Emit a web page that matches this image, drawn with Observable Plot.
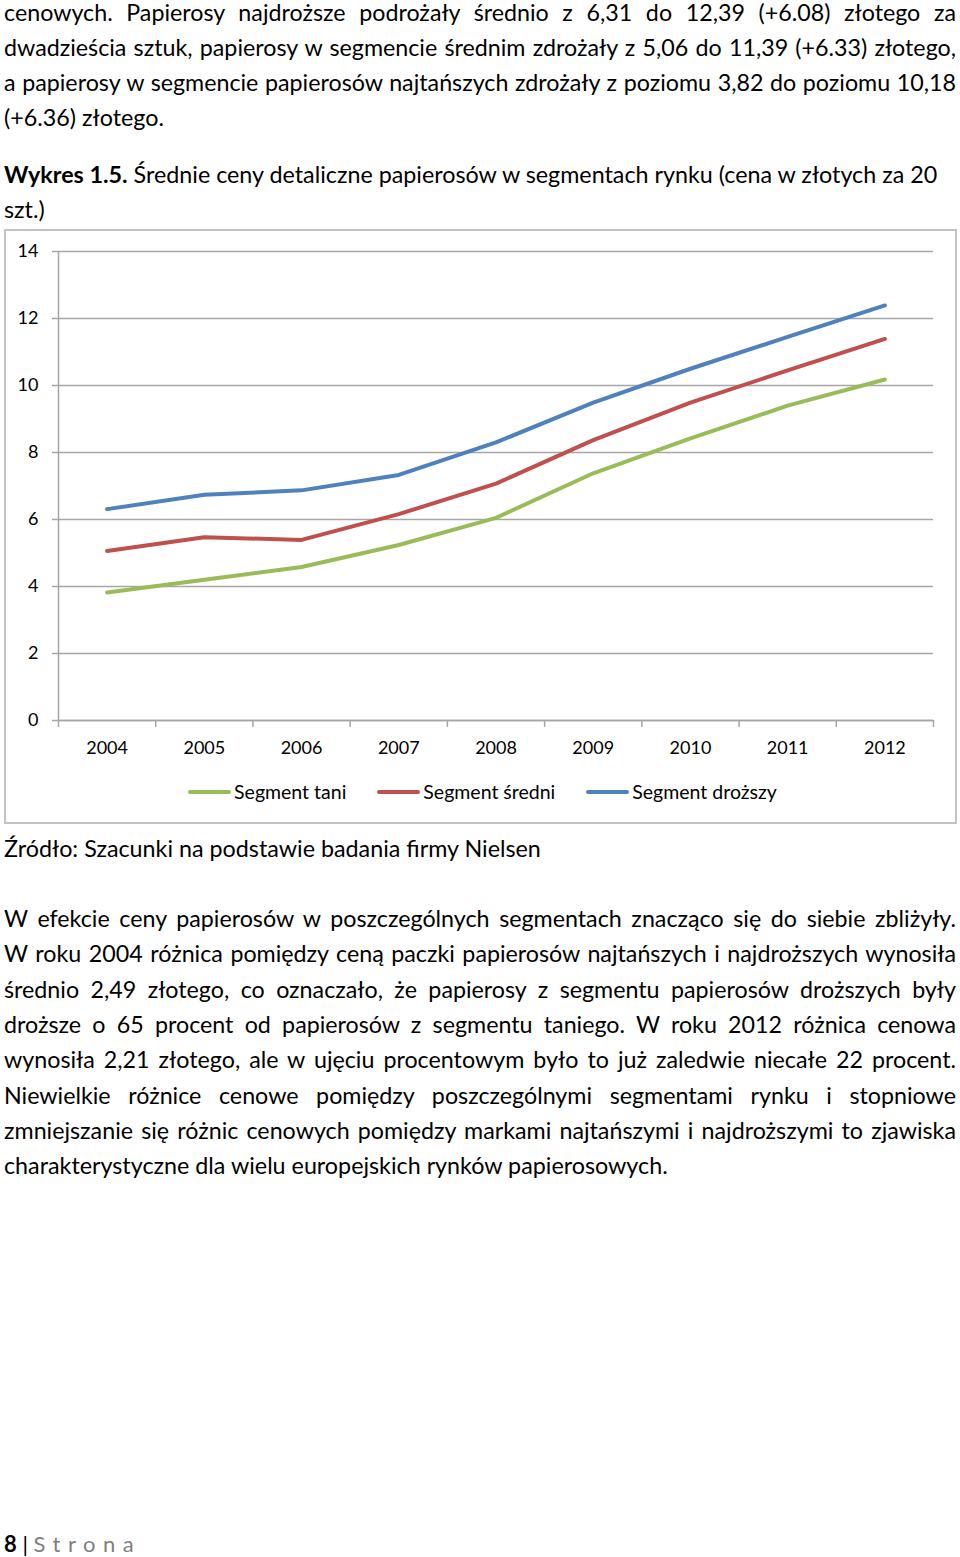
<!DOCTYPE html>
<html><head><meta charset="utf-8">
<script src="https://cdn.jsdelivr.net/npm/d3@7"></script>
<script src="https://cdn.jsdelivr.net/npm/@observablehq/plot@0.6"></script>
<style>
body{margin:0;background:#fff;width:960px;height:1557px;position:relative;font-family:Lato,"Open Sans",sans-serif;color:#000;overflow:hidden;}
.ln{position:absolute;left:4px;width:952px;font-size:23.3px;line-height:35px;white-space:nowrap;}
.j{text-align:justify;text-align-last:justify;}
#box{position:absolute;left:4px;top:229px;width:949px;height:591px;border:2px solid #c3c3c3;}
#chart{position:absolute;left:4px;top:229px;}
#legend{position:absolute;left:4px;top:779px;width:953px;display:flex;justify-content:center;gap:31px;font-size:19.5px;line-height:26px;padding-left:4px;box-sizing:border-box;}
.item{display:flex;align-items:center;}
.sw{width:43px;height:4px;border-radius:2px;margin-right:3px;}
#footer{position:absolute;left:4px;top:1526px;font-size:22px;line-height:35px;white-space:nowrap;}
</style></head><body>
<div class="ln j" style="top:-5px">cenowych. Papierosy najdroższe podrożały średnio z 6,31 do 12,39 (+6.08) złotego za</div>
<div class="ln j" style="top:30px">dwadzieścia sztuk, papierosy w segmencie średnim zdrożały z 5,06 do 11,39 (+6.33) złotego,</div>
<div class="ln j" style="top:65px">a papierosy w segmencie papierosów najtańszych zdrożały z poziomu 3,82 do poziomu 10,18</div>
<div class="ln" style="top:100px">(+6.36) złotego.</div>
<div class="ln" style="top:157px"><b>Wykres 1.5.</b> Średnie ceny detaliczne papierosów w segmentach rynku (cena w złotych za 20</div>
<div class="ln" style="top:192px">szt.)</div>
<div id="box"></div>
<div id="chart"></div>
<div id="legend"></div>
<div class="ln" style="top:831px">Źródło: Szacunki na podstawie badania firmy Nielsen</div>
<div class="ln j" style="top:901px">W efekcie ceny papierosów w poszczególnych segmentach znacząco się do siebie zbliżyły.</div>
<div class="ln j" style="top:936px">W roku 2004 różnica pomiędzy ceną paczki papierosów najtańszych i najdroższych wynosiła</div>
<div class="ln j" style="top:972px">średnio 2,49 złotego, co oznaczało, że papierosy z segmentu papierosów droższych były</div>
<div class="ln j" style="top:1007px">droższe o 65 procent od papierosów z segmentu taniego. W roku 2012 różnica cenowa</div>
<div class="ln j" style="top:1042px">wynosiła 2,21 złotego, ale w ujęciu procentowym było to już zaledwie niecałe 22 procent.</div>
<div class="ln j" style="top:1078px">Niewielkie różnice cenowe pomiędzy poszczególnymi segmentami rynku i stopniowe</div>
<div class="ln j" style="top:1113px">zmniejszanie się różnic cenowych pomiędzy markami najtańszymi i najdroższymi to zjawiska</div>
<div class="ln" style="top:1148px">charakterystyczne dla wielu europejskich rynków papierosowych.</div>
<div id="footer"><b>8</b> <span style="color:#000">|</span> <span style="color:#7f7f7f;letter-spacing:7.5px">Strona</span></div>
<script>
const years = [2004, 2005, 2006, 2007, 2008, 2009, 2010, 2011, 2012];
const segmentTani = [3.82, 4.20, 4.58, 5.24, 6.05, 7.38, 8.42, 9.40, 10.18];
const segmentSredni = [5.06, 5.47, 5.39, 6.16, 7.07, 8.37, 9.49, 10.45, 11.39];
const segmentDrozszy = [6.31, 6.74, 6.87, 7.33, 8.30, 9.49, 10.50, 11.45, 12.39];
const seriesNames = ["Segment tani", "Segment średni", "Segment droższy"];
const seriesColors = ["#9BBB59", "#C0504D", "#4F81BD"];
const yTicks = [0, 2, 4, 6, 8, 10, 12, 14];

// Fit justified lines: shrink font if natural width exceeds the column, then justify
document.querySelectorAll(".ln.j").forEach(el => {
  const probe = document.createElement("span");
  probe.style.whiteSpace = "nowrap";
  probe.innerHTML = el.innerHTML;
  el.innerHTML = "";
  el.appendChild(probe);
  const w = probe.getBoundingClientRect().width;
  el.innerHTML = probe.innerHTML;
  if (w > 950) el.style.fontSize = (23.3 * 950 / w).toFixed(2) + "px";
  el.style.whiteSpace = "normal";
});

const seriesValues = [segmentTani, segmentSredni, segmentDrozszy];
const data = [];
seriesNames.forEach((s, i) => years.forEach((yr, j) => data.push({year: yr, value: seriesValues[i][j], series: s})));
const boundaries = d3.range(years.length + 1).map(i => years[0] - 0.5 + i);
const gridColor = "#a6a6a6";

const chart = Plot.plot({
  width: 953, height: 530,
  marginLeft: 54, marginRight: 24, marginTop: 22, marginBottom: 39,
  style: {fontFamily: "Lato, 'Open Sans', sans-serif", fontSize: "18px", color: "#000", background: "transparent", overflow: "visible"},
  x: {domain: [boundaries[0], boundaries[boundaries.length - 1]]},
  y: {domain: [0, 14]},
  color: {domain: seriesNames, range: seriesColors},
  marks: [
    Plot.gridY(yTicks, {stroke: gridColor, strokeOpacity: 1, strokeWidth: 1.5}),
    Plot.axisY({ticks: yTicks, tickSize: 6, tickPadding: 14, stroke: gridColor, strokeWidth: 1.5, fill: "#000", tickFormat: d => String(d), label: null}),
    Plot.axisX({ticks: boundaries, tickSize: 7, tickFormat: () => "", stroke: gridColor, strokeWidth: 1.5, label: null}),
    Plot.axisX({ticks: years, tickSize: 0, tickPadding: 21, tickFormat: d => String(d), fill: "#000", label: null}),
    Plot.ruleX([boundaries[0]], {stroke: gridColor, strokeWidth: 1.5}),
    Plot.ruleY([0], {stroke: gridColor, strokeWidth: 1.5}),
    Plot.line(data, {x: "year", y: "value", stroke: "series", strokeWidth: 4, strokeLinecap: "round", strokeLinejoin: "round"})
  ]
});
document.getElementById("chart").appendChild(chart);

const legend = document.getElementById("legend");
seriesNames.forEach((s, i) => {
  const it = document.createElement("div");
  it.className = "item";
  const sw = document.createElement("div");
  sw.className = "sw";
  sw.style.background = seriesColors[i];
  const t = document.createElement("span");
  t.textContent = s;
  it.appendChild(sw); it.appendChild(t);
  legend.appendChild(it);
});
</script>
</body></html>
